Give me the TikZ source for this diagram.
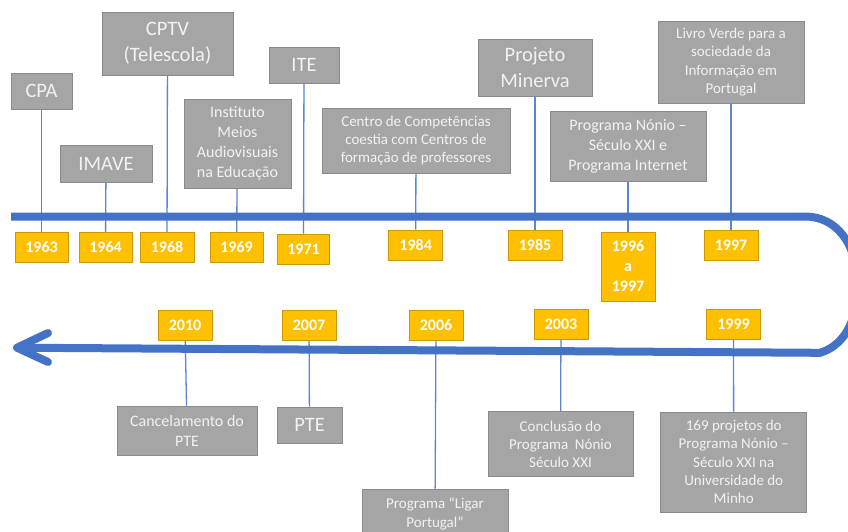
\documentclass[tikz,border=0pt]{standalone}
\usepackage{fontspec}
\setmainfont{Carlito}
\definecolor{tlblue}{HTML}{4472C4}
\definecolor{conblue}{HTML}{5B85D2}
\definecolor{boxgray}{HTML}{A5A5A5}
\definecolor{boxedge}{HTML}{8A8A8A}
\definecolor{boxtext}{HTML}{F2F2F2}
\definecolor{yearfill}{HTML}{FFC000}
\definecolor{yearedge}{HTML}{C99A06}
\tikzset{
  gbox/.style={fill=boxgray, draw=boxedge, line width=1pt, text=boxtext, align=center,
    inner sep=0pt, font=\fontsize{15}{18.3}\selectfont},
  gmid/.style={gbox, font=\fontsize{16}{20}\selectfont},
  gbig/.style={gbox, font=\fontsize{20.5}{25.5}\selectfont},
  ybox/.style={fill=yearfill, draw=yearedge, line width=1pt, text=white, align=center,
    inner sep=0pt, minimum width=53pt, minimum height=30pt, font=\fontsize{16}{20}\selectfont\bfseries},
  conn/.style={draw=conblue, line width=1.3pt},
  mainline/.style={draw=tlblue, line width=8pt}
}
\begin{document}
\begin{tikzpicture}[x=1pt,y=-1pt]
\useasboundingbox (0,0) rectangle (848,531);
\clip (0,0) rectangle (848,531);
% top boxes
\node[gbig, minimum width=61pt, minimum height=36pt] (cpa) at (41.5,91) {CPA};
\node[gbig, minimum width=92pt, minimum height=37pt] (imave) at (106,163.5) {IMAVE};
\node[gbig, minimum width=131pt, minimum height=63pt] (cptv) at (167.5,43.5) {CPTV\\(Telescola)};
\node[gmid, minimum width=107pt, minimum height=89pt] (imae) at (237.5,143.5) {Instituto\\Meios\\Audiovisuais\\na Educação};
\node[gbig, minimum width=70pt, minimum height=36pt] (ite) at (304,65) {ITE};
\node[gbox, minimum width=188pt, minimum height=65pt] (centro) at (416,140.5) {Centro de Competências\\coestia com Centros de\\formação de professores};
\node[gbig, minimum width=114pt, minimum height=57pt] (minerva) at (535,67.5) {Projeto\\Minerva};
\node[gmid, minimum width=156pt, minimum height=70pt] (nonio) at (628,146) {Programa Nónio –\\Século XXI e\\Programa Internet};
\node[gbox, minimum width=146pt, minimum height=82pt] (livro) at (731,62) {Livro Verde para a\\sociedade da\\Informação em\\Portugal};
% top years
\node[ybox] (y1963) at (41.5,247.5) {1963};
\node[ybox] (y1964) at (105.5,247.5) {1964};
\node[ybox, minimum width=54pt] (y1968) at (167,247.5) {1968};
\node[ybox] (y1969) at (236.5,247.5) {1969};
\node[ybox, minimum width=52pt] (y1971) at (303.5,249) {1971};
\node[ybox, minimum width=54pt] (y1984) at (415.7,245) {1984};
\node[ybox, minimum width=54pt] (y1985) at (535,245) {1985};
\node[ybox, minimum width=54pt, minimum height=69pt] (y1996) at (628,266.5) {1996\\a\\1997};
\node[ybox, minimum width=54pt] (y1997) at (731,245) {1997};
% bottom years
\node[ybox, minimum width=54pt] (y2010) at (185,325) {2010};
\node[ybox, minimum width=54pt] (y2007) at (309,325) {2007};
\node[ybox, minimum width=54pt] (y2006) at (436,325.5) {2006};
\node[ybox, minimum width=54pt] (y2003) at (561,324) {2003};
\node[ybox, minimum width=54pt] (y1999) at (733.5,324) {1999};
% bottom boxes
\node[gmid, minimum width=140pt, minimum height=49pt] (cancel) at (187,430.5) {Cancelamento do\\PTE};
\node[gbig, minimum width=65pt, minimum height=36pt] (pte) at (309.5,425) {PTE};
\node[gbox, minimum width=146pt, minimum height=50pt] (ligar) at (435,514) {Programa “Ligar\\Portugal”};
\node[gbox, minimum width=145pt, minimum height=65pt] (concl) at (560.5,444.3) {Conclusão do\\Programa\ \ Nónio\\Século XXI};
\node[gbox, minimum width=146pt, minimum height=100pt] (proj) at (733.7,462) {169 projetos do\\Programa Nónio –\\Século XXI na\\Universidade do\\Minho};
% connectors
\draw[conn] (cpa) -- (y1963);
\draw[conn] (imave) -- (y1964);
\draw[conn] (cptv) -- (y1968);
\draw[conn] (imae) -- (y1969);
\draw[conn] (ite) -- (y1971);
\draw[conn] (centro) -- (y1984);
\draw[conn] (minerva) -- (y1985);
\draw[conn] (nonio) -- (y1996);
\draw[conn] (livro) -- (y1997);
\draw[conn] (y2010) -- (cancel);
\draw[conn] (y2007) -- (pte);
\draw[conn] (y2006) -- (ligar);
\draw[conn] (y2003) -- (concl);
\draw[conn] (y1999) -- (proj);
% main timeline
\coordinate (tstart) at (11,216.5);
\coordinate (tturn) at (805,216.5);
\coordinate (bturn) at (820,352.8);
\coordinate (tip) at (17,347.7);
\coordinate (armup) at (48,333);
\coordinate (armdn) at (48,362);
\draw[mainline, line join=round] (tstart) -- (tturn)
  .. controls (836,216.5) and (857,243) .. (858,285)
  .. controls (857,325) and (842,346) .. (bturn) -- (tip);
\draw[mainline, line cap=round, line join=round] (armup) -- (tip) -- (armdn);
\end{tikzpicture}
\end{document}
